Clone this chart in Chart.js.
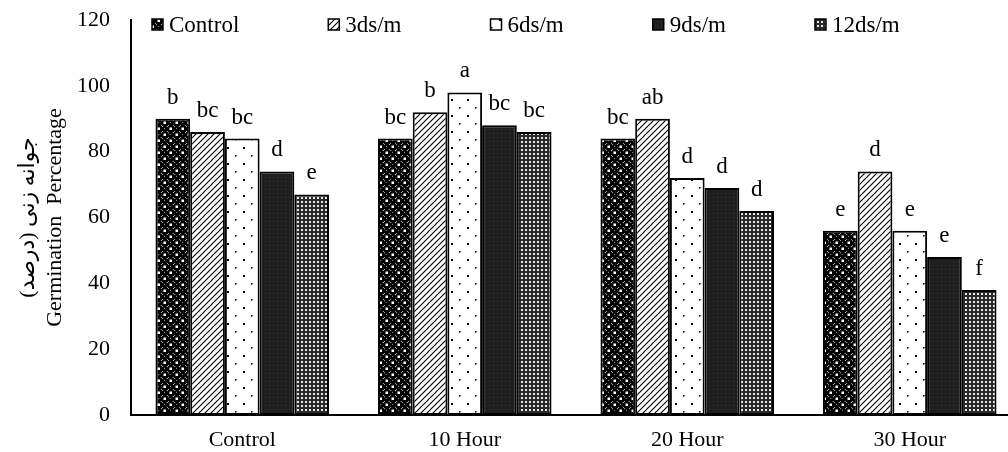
<!DOCTYPE html>
<html><head><meta charset="utf-8">
<script src="https://cdn.jsdelivr.net/npm/chart.js@4.4.0/dist/chart.umd.min.js"></script>
<style>html,body{margin:0;padding:0;overflow:hidden;background:#fff;width:1008px;height:452px}
canvas{display:block}</style></head>
<body><canvas id="c" width="1021" height="452"></canvas>
<script>
const categories = ['Control', '10 Hour', '20 Hour', '30 Hour'];
const seriesNames = ['Control', '3ds/m', '6ds/m', '9ds/m', '12ds/m'];
const controlValues = [90, 84, 84, 56];
const ds3Values = [86, 92, 90, 74];
const ds6Values = [84, 98, 72, 56];
const ds9Values = [74, 88, 69, 48];
const ds12Values = [67, 86, 62, 38];
const controlLetters = ['b', 'bc', 'bc', 'e'];
const ds3Letters = ['bc', 'b', 'ab', 'd'];
const ds6Letters = ['bc', 'a', 'd', 'e'];
const ds9Letters = ['d', 'bc', 'd', 'e'];
const ds12Letters = ['e', 'bc', 'd', 'f'];
const yTicks = [0, 20, 40, 60, 80, 100, 120];
const yTitleLines = ['جوانه زنی (درصد)', 'Germination  Percentage'];

const FONT = "'Liberation Serif', 'Times New Roman', serif";

function tile(w, h, draw) {
  const c = document.createElement('canvas');
  c.width = w; c.height = h;
  const g = c.getContext('2d');
  draw(g, w, h);
  return document.getElementById('c').getContext('2d').createPattern(c, 'repeat');
}
const patControl = tile(12, 12, (g) => {
  g.fillStyle = '#fff'; g.fillRect(0, 0, 12, 12);
  g.fillStyle = '#000';
  g.fillRect(6, 0, 6, 6); g.fillRect(0, 6, 6, 6);
  g.beginPath(); g.arc(3, 3, 3.3, 0, Math.PI * 2); g.fill();
  g.beginPath(); g.arc(9, 9, 3.3, 0, Math.PI * 2); g.fill();
  g.fillStyle = '#fff';
  g.fillRect(7.5, 1.5, 2.5, 2.5); g.fillRect(1.5, 7.5, 2.5, 2.5);
  g.fillStyle = '#888';
  g.fillRect(2, 2, 1, 1); g.fillRect(8, 8, 1, 1);
});
const pat3 = tile(6, 6, (g) => {
  g.fillStyle = '#fff'; g.fillRect(0, 0, 6, 6);
  g.strokeStyle = '#000'; g.lineWidth = 1.1;
  g.beginPath();
  g.moveTo(-1, 7); g.lineTo(7, -1);
  g.moveTo(-4, 4); g.lineTo(4, -4);
  g.moveTo(2, 10); g.lineTo(10, 2);
  g.stroke();
});
const pat6 = tile(16, 16, (g) => {
  g.fillStyle = '#fff'; g.fillRect(0, 0, 16, 16);
  g.fillStyle = '#000';
  g.fillRect(3, 3, 2, 2); g.fillRect(11, 11, 1.5, 1.5);
});
const pat9 = tile(4, 4, (g) => {
  g.fillStyle = '#1e1e1e'; g.fillRect(0, 0, 4, 4);
  g.fillStyle = '#3a3a3a'; g.fillRect(1, 1, 1, 1);
});
const pat12 = tile(4, 4, (g) => {
  g.fillStyle = '#2a2a2a'; g.fillRect(0, 0, 4, 4);
  g.fillStyle = '#e8e8e8'; g.fillRect(1, 1, 2, 2);
});

const patterns = [patControl, pat3, pat6, pat9, pat12];
const valueSets = [controlValues, ds3Values, ds6Values, ds9Values, ds12Values];
const letterSets = [controlLetters, ds3Letters, ds6Letters, ds9Letters, ds12Letters];

const datasets = seriesNames.map((name, i) => ({
  label: name,
  data: valueSets[i],
  letters: letterSets[i],
  backgroundColor: patterns[i],
  borderColor: '#000',
  borderWidth: 2,
  borderSkipped: false,
  barPercentage: 1,
  categoryPercentage: 0.78
}));

const lettersPlugin = {
  id: 'letters',
  afterDatasetsDraw(chart) {
    const ctx = chart.ctx;
    ctx.save();
    ctx.font = '23px ' + FONT;
    ctx.fillStyle = '#000';
    ctx.textAlign = 'center';
    ctx.textBaseline = 'alphabetic';
    chart.data.datasets.forEach((ds, i) => {
      chart.getDatasetMeta(i).data.forEach((el, j) => {
        ctx.fillText(ds.letters[j], el.x, el.y - 15);
      });
    });
    ctx.restore();
  }
};

const legendPlugin = {
  id: 'customLegend',
  afterDraw(chart) {
    const ctx = chart.ctx;
    ctx.save();
    ctx.font = '23px ' + FONT;
    ctx.textBaseline = 'middle';
    ctx.textAlign = 'left';
    let x = chart.chartArea.left + 21;
    const y = 24.5, box = 11, gap = 89;
    chart.data.datasets.forEach((ds) => {
      ctx.fillStyle = ds.backgroundColor;
      ctx.fillRect(x, y - box / 2, box, box);
      ctx.strokeStyle = '#000';
      ctx.lineWidth = 1.5;
      ctx.strokeRect(x, y - box / 2, box, box);
      ctx.fillStyle = '#000';
      ctx.fillText(ds.label, x + 17, y + 1);
      x += box + 6 + ctx.measureText(ds.label).width + gap;
    });
    ctx.restore();
  }
};

new Chart(document.getElementById('c'), {
  type: 'bar',
  data: { labels: categories, datasets },
  options: {
    responsive: false,
    animation: false,
    layout: { padding: { top: 20, right: 0, bottom: 0, left: 0 } },
    plugins: { legend: { display: false }, tooltip: { enabled: false } },
    scales: {
      x: {
        grid: { display: false, drawTicks: false },
        border: { display: true, color: '#000', width: 2 },
        ticks: { color: '#000', font: { family: FONT, size: 22 }, padding: 12 },
        afterFit(s) { s.height = 37; s.paddingLeft = 0; s.paddingRight = 0; }
      },
      y: {
        min: 0, max: 120,
        afterBuildTicks(s) { s.ticks = yTicks.map(v => ({ value: v })); },
        grid: { display: false, drawTicks: false },
        border: { display: true, color: '#000', width: 2 },
        ticks: { color: '#000', font: { family: FONT, size: 22 }, padding: 21 },
        title: {
          display: true, text: yTitleLines, color: '#000',
          font: { family: FONT + ", 'DejaVu Sans'", size: 22, lineHeight: 1.25 },
          padding: { top: 14, bottom: 0 }
        },
        afterFit(s) { s.width = 131; s.paddingTop = 0; s.paddingBottom = 0; }
      }
    }
  },
  plugins: [lettersPlugin, legendPlugin]
});
</script></body></html>
